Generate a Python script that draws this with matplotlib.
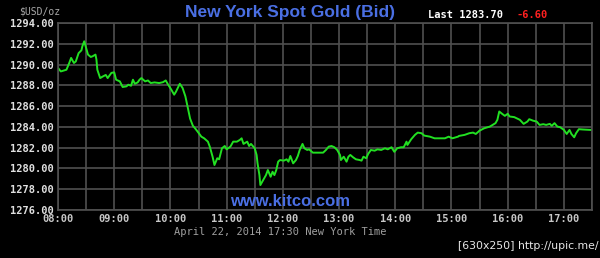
import numpy as np
import matplotlib
matplotlib.use('Agg')
import matplotlib.pyplot as plt

# 分钟 (从 08:00 起) 和 价格
minutes = [0, 3, 9, 12, 14, 17, 19, 22, 25, 26, 28, 30, 32, 35, 37, 40, 41, 42, 45, 48,
           51, 53, 57, 60, 62, 66, 69, 73, 75, 78, 80, 82, 85, 87, 89, 93, 96, 99, 103, 108,
           112, 115, 117, 121, 124, 126, 130, 133, 136, 139, 141, 144, 146, 149, 153, 156, 160, 162, 165, 167,
           170, 172, 175, 178, 180, 184, 187, 191, 194, 196, 198, 202, 204, 206, 210, 212, 213, 215, 216, 219,
           222, 224, 227, 229, 231, 233, 235, 237, 241, 244, 246, 248, 251, 254, 256, 258, 261, 263, 266, 268,
           272, 277, 283, 286, 289, 292, 295, 298, 301, 302, 305, 308, 310, 312, 315, 318, 322, 324, 326, 329,
           331, 334, 338, 341, 345, 349, 352, 356, 359, 362, 366, 369, 372, 373, 377, 381, 384, 388, 391, 397,
           402, 407, 413, 417, 421, 427, 428, 434, 439, 443, 446, 450, 455, 461, 464, 467, 469, 471, 474, 477,
           480, 482, 487, 493, 497, 501, 503, 507, 511, 514, 518, 521, 525, 527, 530, 533, 536, 540, 543, 544,
           546, 548, 551, 553, 556, 560, 570]
prices = [1289.67, 1289.34, 1289.50, 1290.15, 1290.64, 1290.15, 1290.30, 1291.10, 1291.37, 1291.76,
          1292.24, 1291.60, 1290.96, 1290.73, 1290.80, 1290.96, 1290.50, 1289.50, 1288.70, 1288.86,
          1289.00, 1288.70, 1289.20, 1289.25, 1288.54, 1288.38, 1287.84, 1287.90, 1288.06, 1287.96,
          1288.54, 1288.15, 1288.28, 1288.54, 1288.70, 1288.38, 1288.47, 1288.22, 1288.28, 1288.22,
          1288.30, 1288.47, 1288.15, 1287.57, 1287.10, 1287.40, 1288.15, 1287.74, 1286.93, 1285.64,
          1284.80, 1284.10, 1283.90, 1283.55, 1283.06, 1282.90, 1282.58, 1282.10, 1281.13, 1280.33,
          1280.98, 1280.88, 1281.94, 1282.16, 1281.84, 1282.10, 1282.58, 1282.58, 1282.74, 1282.90,
          1282.36, 1282.58, 1282.16, 1282.36, 1281.94, 1281.29, 1280.49, 1279.36, 1278.40, 1278.88,
          1279.36, 1279.85, 1279.20, 1279.68, 1279.36, 1279.85, 1280.65, 1280.81, 1280.75, 1280.88,
          1280.65, 1281.20, 1280.49, 1280.81, 1281.20, 1281.78, 1282.36, 1281.94, 1281.78, 1281.84,
          1281.52, 1281.52, 1281.52, 1281.78, 1282.10, 1282.16, 1282.04, 1281.78, 1281.30, 1280.81,
          1281.13, 1280.65, 1281.13, 1281.30, 1281.07, 1280.88, 1280.81, 1280.75, 1281.13, 1280.98,
          1281.39, 1281.78, 1281.71, 1281.84, 1281.78, 1281.94, 1281.84, 1282.04, 1281.60, 1281.94,
          1282.04, 1282.04, 1282.58, 1282.26, 1282.81, 1283.23, 1283.45, 1283.39, 1283.16, 1283.06,
          1282.90, 1282.90, 1282.90, 1283.06, 1282.90, 1283.06, 1283.13, 1283.23, 1283.39, 1283.45,
          1283.32, 1283.64, 1283.87, 1284.03, 1284.19, 1284.36, 1284.68, 1285.48, 1285.26, 1285.06,
          1285.26, 1285.00, 1284.94, 1284.68, 1284.29, 1284.51, 1284.74, 1284.60, 1284.51, 1284.19,
          1284.26, 1284.19, 1284.29, 1284.10, 1284.36, 1284.03, 1283.97, 1283.71, 1283.32, 1283.45,
          1283.71, 1283.32, 1283.00, 1283.39, 1283.78, 1283.75, 1283.70]

hour_labels = ['08:00', '09:00', '10:00', '11:00', '12:00', '13:00', '14:00', '15:00', '16:00', '17:00']
y_ticks = [1276, 1278, 1280, 1282, 1284, 1286, 1288, 1290, 1292, 1294]

BLUE = '#4a6fe3'
GRID = '#505050'
MONO = 'DejaVu Sans Mono'

fig = plt.figure(figsize=(6.0, 2.58), dpi=100, facecolor='black')
ax = fig.add_axes([58 / 600, 1 - 210 / 258, 534 / 600, 187 / 258])
ax.set_facecolor('black')

ax.plot(minutes, prices, color='#22e022', lw=1.4)

ax.set_xlim(0, 570)
ax.set_ylim(1276, 1294)

# 每半小时一条竖线, 只在整点写标签
ax.set_xticks(np.arange(0, 571, 30))
ax.set_xticklabels([hour_labels[i // 2] if i % 2 == 0 else '' for i in range(20)])
ax.set_yticks(y_ticks)
ax.set_yticklabels(['%.2f' % v for v in y_ticks])
ax.grid(True, color=GRID, lw=1.2)
ax.tick_params(length=0, pad=3)
for lab in ax.get_xticklabels():
    lab.set(family=MONO, fontsize=7.5, fontweight='bold', color='#c8c8c8')
for lab in ax.get_yticklabels():
    lab.set(family=MONO, fontsize=7.5, fontweight='bold', color='#e0e0e0')
for s in ax.spines.values():
    s.set_color(GRID)
    s.set_linewidth(1.2)

# 文字
fig.text(290 / 600, 1 - 12 / 258, 'New York Spot Gold (Bid)', ha='center', va='center',
         family='Liberation Sans', fontweight='bold', fontsize=12.5, color=BLUE)
fig.text(19 / 600, 1 - 11 / 258, '$USD/oz', ha='left', va='center',
         family=MONO, fontsize=7, color='#a8a8a8')
fig.text(428 / 600, 1 - 15 / 258, 'Last 1283.70', ha='left', va='center',
         family=MONO, fontweight='bold', fontsize=7.5, color='white')
fig.text(517 / 600, 1 - 15 / 258, '-6.60', ha='left', va='center',
         family=MONO, fontweight='bold', fontsize=7.5, color='#ff2020')
fig.text(290 / 600, 1 - 202 / 258, 'www.kitco.com', ha='center', va='center',
         family='Liberation Sans', fontweight='bold', fontsize=12, color=BLUE)
fig.text(280 / 600, 1 - 232 / 258, 'April 22, 2014 17:30 New York Time', ha='center', va='center',
         family=MONO, fontsize=7.5, color='#a0a0a0')
fig.text(598 / 600, 1 - 246 / 258, '[630x250] http://upic.me/', ha='right', va='center',
         family='DejaVu Sans', fontsize=7.8, color='#e8e8e8')

fig.savefig('out.png', dpi=100, facecolor='black')
